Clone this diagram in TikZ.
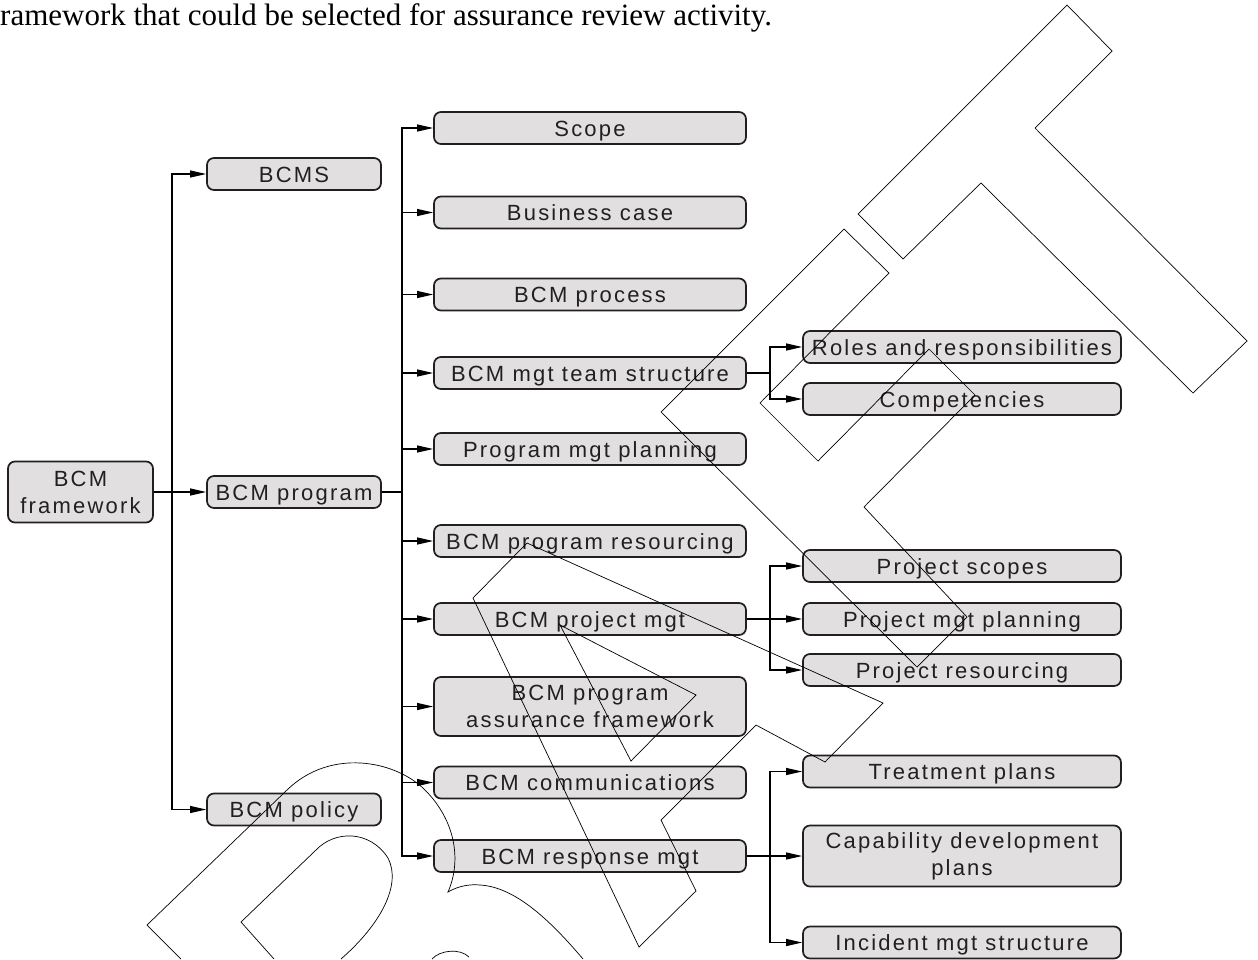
\documentclass[tikz,border=0pt]{standalone}
\usepackage{fontspec}
\setmainfont{Liberation Serif}
\newfontfamily\boxfont[LetterSpace=10]{Liberation Sans}
\usetikzlibrary{arrows.meta}
\definecolor{boxfill}{RGB}{225,223,224}
\definecolor{ink}{RGB}{35,31,32}
\begin{document}
\begin{tikzpicture}[x=1pt,y=-1pt,
  bx/.style={draw=ink, line width=1.7pt, fill=boxfill, rounded corners=7pt, inner sep=0pt,
    font={\boxfont\fontsize{22}{27}\selectfont}, text=ink, align=center},
  one/.style={text height=16pt, text depth=0pt},
  c2/.style={bx, one, minimum width=174pt, minimum height=32pt},
  c3/.style={bx, one, minimum width=312pt, minimum height=32pt},
  c4/.style={bx, one, minimum width=318pt, minimum height=32pt},
  conn/.style={line width=1.1pt, -{Triangle[length=16pt,width=7pt]}},
  ln/.style={line width=1.1pt},
  wm/.style={line width=0.7pt, line join=miter}
]
\useasboundingbox (0,0) rectangle (1258,959);

% caption fragment
\node[anchor=base west, inner sep=0pt, font=\fontsize{31}{36}\selectfont] (cap) at (0,25)
  {ramework that could be selected for assurance review activity.};

% column 1
\node[bx, minimum width=145pt, minimum height=61pt] (fw) at (80.5,492) {BCM\\framework};
% column 2
\node[c2] (bcms) at (294,174) {BCMS};
\node[c2] (prog) at (294,492) {BCM program};
\node[c2] (pol)  at (294,809.5) {BCM policy};
% column 3
\node[c3] (scope) at (590,128) {Scope};
\node[c3] (bcase) at (590,212.5) {Business case};
\node[c3] (proc)  at (590,294.5) {BCM process};
\node[c3] (team)  at (590,373) {BCM mgt team structure};
\node[c3] (pplan) at (590,449) {Program mgt planning};
\node[c3] (pres)  at (590,541) {BCM program resourcing};
\node[c3] (pm)    at (590,619) {BCM project mgt};
\node[bx, minimum width=312pt, minimum height=59pt] (paf) at (590,706.5) {BCM program\\assurance framework};
\node[c3] (comm)  at (590,782.5) {BCM communications};
\node[c3] (resp)  at (590,856) {BCM response mgt};
% column 4
\node[c4] (roles) at (962,347) {Roles and responsibilities};
\node[c4] (comp)  at (962,399) {Competencies};
\node[c4] (pscope) at (962,566) {Project scopes};
\node[c4] (pmp)   at (962,619) {Project mgt planning};
\node[c4] (pr)    at (962,670) {Project resourcing};
\node[c4] (treat) at (962,771.5) {Treatment plans};
\node[bx, minimum width=318pt, minimum height=61pt] (cap2) at (962,856) {Capability development\\plans};
\node[c4] (inc)   at (962,942.5) {Incident mgt structure};

% junctions
\coordinate (j1) at (172,492);
\coordinate (j2) at (402,492);
\coordinate (j3) at (770,373);
\coordinate (j4) at (770,619);
\coordinate (j5) at (770,856);

% connectors
\draw[conn] (fw.east) -- (prog.west);
\draw[conn] (j1) |- (bcms.west);
\draw[conn] (j1) |- (pol.west);

\draw[ln] (prog.east) -- (j2);
\foreach \t in {scope,bcase,proc,team,pplan,pres,pm,paf,comm,resp}
  \draw[conn] (j2) |- (\t.west);

\draw[ln] (team.east) -- (j3);
\draw[conn] (j3) |- (roles.west);
\draw[conn] (j3) |- (comp.west);

\draw[ln] (pm.east) -- (j4);
\draw[conn] (j4) |- (pscope.west);
\draw[conn] (j4) -- (pmp.west);
\draw[conn] (j4) |- (pr.west);

\draw[ln] (resp.east) -- (j5);
\draw[conn] (j5) |- (treat.west);
\draw[conn] (j5) -- (cap2.west);
\draw[conn] (j5) |- (inc.west);

% DRAFT watermark outlines
% T
\draw[wm] (1067,5) -- (1112,51) -- (1035,128) -- (1247,341) -- (1193,393) -- (981,183) -- (903,259) -- (858,214) -- cycle;
% F
\draw[wm] (844,229) -- (889,273) -- (760,403) -- (818,461) -- (929,349) -- (975,395) -- (864,507) -- (967,617) -- (917,667) -- (661,412) -- cycle;
% A
\draw[wm] (473,598) -- (527,543) -- (883,703) -- (825,762) -- (756,725) -- (661,820) -- (696,891) -- (639,947) -- cycle;
\draw[wm] (560,625) -- (696,695) -- (631,761) -- cycle;
% R
\draw[wm] (181,959) -- (147,925) -- (287,790)
  .. controls (330,748) and (395,760) .. (425,790)
  .. controls (455,820) and (462,860) .. (448,892)
  .. controls (458,886) and (470,884) .. (480,885)
  .. controls (515,887) and (550,920) .. (583,959);
\draw[wm] (274,959) -- (241,922) -- (316,850)
  .. controls (335,830) and (370,830) .. (388,858)
  .. controls (402,885) and (380,925) .. (341,959);
\draw[wm] (432,959) .. controls (440,950) and (460,948) .. (469,957);
\end{tikzpicture}
\end{document}
